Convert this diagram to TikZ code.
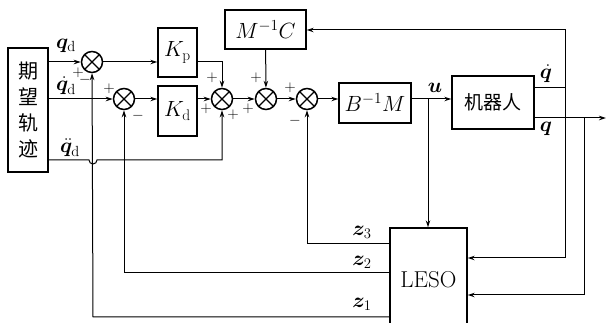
\RequirePackage{fix-cm}
\documentclass[tikz,border=0pt]{standalone}
\usepackage{fontspec}
\usepackage{amsmath,bm}
\newfontfamily\cjk{Noto Sans CJK SC}
\usetikzlibrary{arrows.meta}
\begin{document}
\begin{tikzpicture}[x=1pt,y=-1pt,
  blk/.style={draw,line width=1.4pt,rectangle,inner sep=0pt,font=\fontsize{22}{24}\selectfont},
  sumn/.style={draw,circle,line width=1.5pt,minimum size=21pt,inner sep=0pt,
    path picture={\draw[line width=1.3pt] ([shift={(45:11)}]path picture bounding box.center) -- ([shift={(225:11)}]path picture bounding box.center);
      \draw[line width=1.3pt] ([shift={(135:11)}]path picture bounding box.center) -- ([shift={(315:11)}]path picture bounding box.center);}},
  ln/.style={line width=1pt},
  arr/.style={ln,-{Stealth[length=7pt,width=4.5pt]}},
  sg/.style={font=\fontsize{15}{15}\selectfont,inner sep=0pt},
  lb/.style={font=\fontsize{21}{21}\selectfont,inner sep=0pt}]
\useasboundingbox (0,0) rectangle (606,323);
% blocks
\node[blk,minimum width=40pt,minimum height=124pt,align=center,font=\cjk\fontsize{20}{26}\selectfont] (traj) at (28,110) {期\\望\\轨\\迹};
\node[blk,minimum width=39pt,minimum height=49pt] (kp) at (177.5,52.5) {$K_{\mathrm{p}}$};
\node[blk,minimum width=39pt,minimum height=50pt] (kd) at (177.5,111) {$K_{\mathrm{d}}$};
\node[blk,minimum width=81pt,minimum height=39pt] (mc) at (265.5,29.5) {$M^{-1}C$};
\node[blk,minimum width=72pt,minimum height=40pt] (bm) at (375,103) {$B^{-1}M$};
\node[blk,minimum width=82pt,minimum height=53pt,font=\cjk\fontsize{19}{20}\selectfont] (rob) at (493,102.5) {机器人};
\node[blk,minimum width=77pt,minimum height=104pt,font=\fontsize{23}{24}\selectfont] (leso) at (428.5,280) {LESO};
% summers
\node[sumn] (s1) at (92,62) {};
\node[sumn] (s2) at (124,99) {};
\node[sumn] (s3) at (222,99) {};
\node[sumn] (s4) at (266,99) {};
\node[sumn] (s5) at (307,99) {};
% coordinates
\coordinate (tq) at (48,62);
\coordinate (tdq) at (48,99);
\coordinate (tddq) at (48,160);
\coordinate (u) at (428,99);
\coordinate (qdotR) at (534,88);
\coordinate (qR) at (534,118);
\coordinate (qend) at (606,118);
% forward paths
\draw[arr] (tq) -- (s1);
\draw[arr] (tdq) -- (s2);
\draw[arr] (s1) -- (kp.west |- s1);
\draw[arr] (s2) -- (kd.west |- s2);
\draw[arr] (kd.east |- s3) -- (s3);
\draw[arr] (kp.east |- s1) -| (s3);
\draw[arr] (tddq) -- (89,160) arc[start angle=180,end angle=0,radius=4] -- (222,160) -- (s3);
\draw[arr] (s3) -- (s4);
\draw[arr] (mc) -- (s4);
\draw[arr] (s4) -- (s5);
\draw[arr] (s5) -- (bm.west |- s5);
\draw[ln] (bm.east |- u) -- (u);
\draw[arr] (u) -- (rob.west |- u);
\draw[arr] (u) -- (leso.north -| u);
% robot outputs
\draw[ln] (qdotR) -- (565,88);
\draw[arr] (565,88) -- (565,30) -- (mc.east |- 0,30);
\draw[arr] (565,88) -- (565,258) -- (leso.east |- 0,258);
\draw[arr] (qR) -- (qend);
\draw[arr] (584,118) -- (584,295) -- (leso.east |- 0,295);
% feedback
\draw[arr] (leso.west |- 0,244) -- (307,244) -- (s5);
\draw[arr] (leso.west |- 0,273) -- (124,273) -- (s2);
\draw[arr] (leso.west |- 0,317) -- (93,317) -- (s1);
% labels
\node[lb] at (66,46) {$\bm{q}_{\mathrm{d}}$};
\node[lb] at (66,86) {$\dot{\bm{q}}_{\mathrm{d}}$};
\node[lb] at (70,148) {$\ddot{\bm{q}}_{\mathrm{d}}$};
\node[lb] at (435,88) {$\bm{u}$};
\node[lb] at (546,74) {$\dot{\bm{q}}$};
\node[lb] at (546,129) {$\bm{q}$};
\node[lb] at (362,232) {$\bm{z}_3$};
\node[lb] at (362,262) {$\bm{z}_2$};
\node[lb] at (362,304) {$\bm{z}_1$};
% signs
\node[sg] at (78,73) {$+$};
\node[sg] at (85,80) {$-$};
\node[sg] at (109,89) {$+$};
\node[sg] at (138,116) {$-$};
\node[sg] at (212,78) {$+$};
\node[sg] at (206,109) {$+$};
\node[sg] at (233,115) {$+$};
\node[sg] at (256,78) {$+$};
\node[sg] at (248,109) {$+$};
\node[sg] at (290,88) {$+$};
\node[sg] at (295,121) {$-$};
\end{tikzpicture}
\end{document}
